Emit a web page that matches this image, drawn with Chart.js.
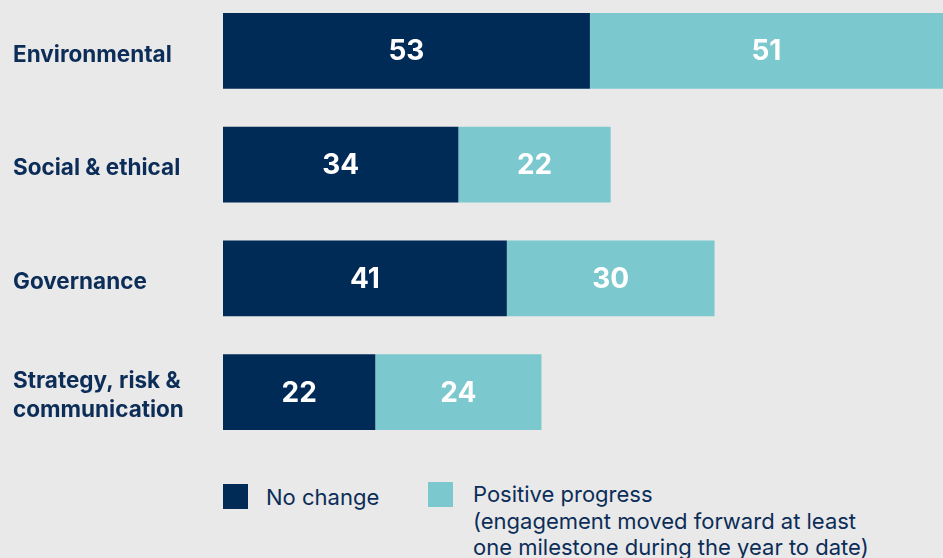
<!DOCTYPE html>
<html>
<head>
<meta charset="utf-8">
<script src="https://cdn.jsdelivr.net/npm/chart.js@4.4.1/dist/chart.umd.min.js"></script>
<style>
  body {
    margin: 0;
    width: 943px;
    height: 558px;
    overflow: hidden;
    position: relative;
    background: #e9e9e9;
    font-family: Inter, "Open Sans", sans-serif;
  }
  #wrap {
    position: absolute;
    left: 0;
    top: -6px;
    width: 943px;
    height: 455px;
  }
  .item {
    position: absolute;
    color: #0b2d58;
    font-size: 22px;
    line-height: 26.5px;
  }
  .item .box {
    position: absolute;
    left: 0;
    width: 25px;
    height: 25px;
  }
</style>
</head>
<body>
<div id="wrap"><canvas id="grafico"></canvas></div>
<div id="legenda"></div>
<script>
const categories = ["Environmental", "Social & ethical", "Governance", ["Strategy, risk &", "communication"]];
const noChange = [53, 34, 41, 22];
const positiveProgress = [51, 22, 30, 24];
const seriesNames = ["No change", "Positive progress"];
const progressNote = ["(engagement moved forward at least", "one milestone during the year to date)"];

const navy = "#002b57";
const teal = "#7bc8ce";

// valores dentro das barras
const valueLabels = {
  id: "valueLabels",
  afterDatasetsDraw(chart) {
    const ctx = chart.ctx;
    ctx.save();
    ctx.fillStyle = "#ffffff";
    ctx.font = "bold 28px Inter, sans-serif";
    ctx.textAlign = "center";
    ctx.textBaseline = "middle";
    chart.data.datasets.forEach((ds, i) => {
      chart.getDatasetMeta(i).data.forEach((bar, j) => {
        const p = bar.getCenterPoint();
        ctx.fillText(ds.data[j], p.x, p.y + 1);
      });
    });
    ctx.restore();
  },
};

const grafico = new Chart(document.getElementById("grafico"), {
  type: "bar",
  data: {
    labels: categories,
    datasets: [
      {
        label: seriesNames[0],
        data: noChange,
        backgroundColor: navy,
        barPercentage: 1,
        categoryPercentage: 0.668,
      },
      {
        label: seriesNames[1],
        data: positiveProgress,
        backgroundColor: teal,
        barPercentage: 1,
        categoryPercentage: 0.668,
      },
    ],
  },
  options: {
    indexAxis: "y",
    responsive: true,
    maintainAspectRatio: false,
    animation: false,
    layout: { padding: { left: 13, right: 0, top: 0, bottom: 0 } },
    plugins: {
      legend: { display: false },
      tooltip: { enabled: false },
    },
    scales: {
      x: {
        stacked: true,
        display: false,
        min: 0,
        max: 104,
      },
      y: {
        stacked: true,
        grid: { display: false },
        border: { display: false },
        afterFit(scale) {
          // largura fixa e sem folga extra em cima/embaixo
          scale.width = 210;
          scale.paddingTop = 0;
          scale.paddingBottom = 0;
        },
        ticks: {
          crossAlign: "far",
          labelOffset: 4,
          color: "#0b2d58",
          font: { family: "Inter, sans-serif", size: 22.5, weight: "bold", lineHeight: 1.29 },
        },
      },
    },
  },
  plugins: [valueLabels],
});

// legenda montada a partir dos datasets
const legenda = document.getElementById("legenda");
const legendPos = [
  { left: 223, top: 484, boxTop: 0, textLeft: 43 },
  { left: 428, top: 481, boxTop: 1, textLeft: 45 },
];
grafico.data.datasets.forEach((ds, i) => {
  const item = document.createElement("div");
  item.className = "item";
  item.style.left = legendPos[i].left + "px";
  item.style.top = legendPos[i].top + "px";
  const box = document.createElement("div");
  box.className = "box";
  box.style.top = legendPos[i].boxTop + "px";
  box.style.background = ds.backgroundColor;
  item.appendChild(box);
  const text = document.createElement("div");
  text.style.marginLeft = legendPos[i].textLeft + "px";
  text.style.whiteSpace = "nowrap";
  const lines = i === 1 ? [ds.label, ...progressNote] : [ds.label];
  text.innerHTML = lines.join("<br>");
  item.appendChild(text);
  legenda.appendChild(item);
});
</script>
</body>
</html>
